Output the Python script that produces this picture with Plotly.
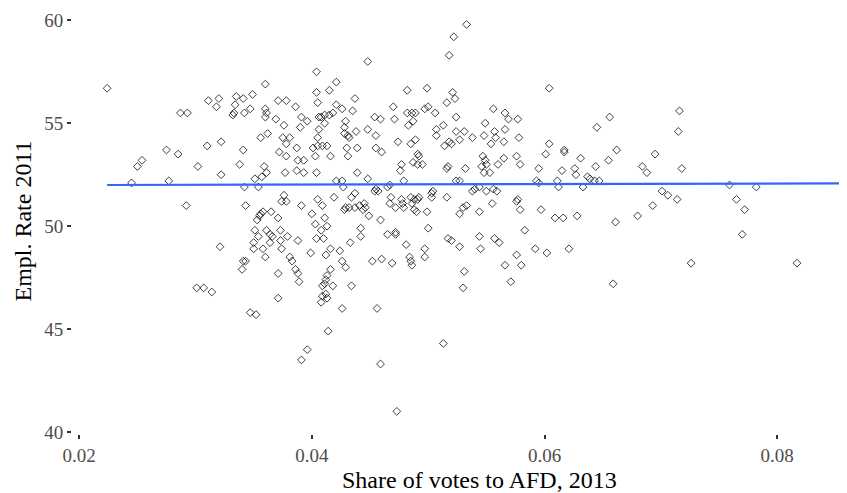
"""
Scatter of employment rate 2011 against AFD vote share 2013, with a flat linear fit.
"""

import plotly.graph_objects as go

SERIF = "Liberation Serif"
TICK_GREY = "#4D4D4D"
FIT_BLUE = "#3366FF"

# district values (x = AFD share 2013, y = employment rate 2011)
afd_share = [
    # upper left cluster
    0.0224, 0.0360, 0.0311, 0.0320, 0.0318, 0.0335, 0.0341, 0.0349, 0.0334, 0.0287,
    0.0293, 0.0332, 0.0333, 0.0342, 0.0347, 0.0360, 0.0361, 0.0360, 0.0371, 0.0378,
    0.0369, 0.0376, 0.0356, 0.0362, 0.0375, 0.0378, 0.0310, 0.0322, 0.0341,
    # lower left cluster
    0.0275, 0.0285, 0.0250, 0.0254, 0.0372, 0.0378, 0.0302, 0.0338, 0.0322, 0.0359,
    0.0361, 0.0357, 0.0351, 0.0377, 0.0245, 0.0277, 0.0342, 0.0354, 0.0376, 0.0374,
    0.0378, 0.0292, 0.0343, 0.0358, 0.0356, 0.0355, 0.0353, 0.0365, 0.0371, 0.0351,
    0.0361, 0.0364, 0.0366, 0.0373, 0.0354, 0.0350, 0.0364, 0.0373, 0.0379, 0.0350,
    0.0358, 0.0374, 0.0321, 0.0360, 0.0341, 0.0343, 0.0340, 0.0371, 0.0301, 0.0307,
    0.0314, 0.0371, 0.0347, 0.0352,
    # upper middle
    0.0533, 0.0522, 0.0518, 0.0448, 0.0404, 0.0421, 0.0404, 0.0415, 0.0482, 0.0499,
    0.0521, 0.0523, 0.0516, 0.0437, 0.0405, 0.0421, 0.0386, 0.0470, 0.0426, 0.0435,
    0.0418, 0.0415, 0.0411, 0.0406, 0.0408, 0.0391, 0.0396, 0.0390, 0.0411, 0.0429,
    0.0428, 0.0428, 0.0431, 0.0432, 0.0406, 0.0405, 0.0438, 0.0448, 0.0455, 0.0454,
    0.0459, 0.0471, 0.0482, 0.0486, 0.0489, 0.0487, 0.0483, 0.0497, 0.0500, 0.0506,
    0.0524, 0.0513, 0.0507, 0.0507, 0.0524, 0.0531, 0.0538, 0.0527, 0.0518, 0.0520,
    0.0514, 0.0474, 0.0489, 0.0485, 0.0381, 0.0387, 0.0401, 0.0405, 0.0409, 0.0413,
    0.0430, 0.0439, 0.0455,
    # lower middle
    0.0416, 0.0431, 0.0460, 0.0388, 0.0393, 0.0403, 0.0491, 0.0492, 0.0487, 0.0491,
    0.0495, 0.0477, 0.0476, 0.0517, 0.0516, 0.0532, 0.0387, 0.0393, 0.0404, 0.0439,
    0.0448, 0.0421, 0.0426, 0.0427, 0.0479, 0.0467, 0.0465, 0.0455, 0.0457, 0.0454,
    0.0524, 0.0527, 0.0540, 0.0538, 0.0437, 0.0434, 0.0405, 0.0419, 0.0409, 0.0391,
    0.0429, 0.0428, 0.0432, 0.0437, 0.0441, 0.0445, 0.0444, 0.0446, 0.0449, 0.0468,
    0.0467, 0.0472, 0.0477, 0.0479, 0.0478, 0.0485, 0.0488, 0.0491, 0.0492, 0.0486,
    0.0488, 0.0490, 0.0499, 0.0503, 0.0504, 0.0503, 0.0516, 0.0530, 0.0533, 0.0527,
    0.0400, 0.0411, 0.0413, 0.0408, 0.0403, 0.0459, 0.0442, 0.0442, 0.0465, 0.0472,
    0.0472, 0.0500, 0.0517, 0.0520, 0.0527, 0.0404, 0.0410, 0.0388, 0.0433, 0.0481,
    0.0416, 0.0424, 0.0497, 0.0497, 0.0399, 0.0412, 0.0381, 0.0383, 0.0452, 0.0460,
    0.0469, 0.0426, 0.0429, 0.0484, 0.0485, 0.0486, 0.0386, 0.0388, 0.0389, 0.0416,
    0.0413, 0.0412, 0.0409, 0.0411, 0.0418, 0.0434, 0.0531, 0.0530,
    # low outliers
    0.0412, 0.0409, 0.0413, 0.0408, 0.0426, 0.0456, 0.0414, 0.0396, 0.0391, 0.0459,
    0.0513, 0.0473,
    # upper right
    0.0604, 0.0556, 0.0566, 0.0569, 0.0577, 0.0549, 0.0557, 0.0558, 0.0554, 0.0566,
    0.0548, 0.0565, 0.0578, 0.0604, 0.0617, 0.0645, 0.0656, 0.0662,
    # lower right
    0.0547, 0.0549, 0.0550, 0.0546, 0.0548, 0.0553, 0.0565, 0.0576, 0.0579, 0.0560,
    0.0601, 0.0617, 0.0631, 0.0695, 0.0655, 0.0644, 0.0684, 0.0688, 0.0595, 0.0615,
    0.0626, 0.0627, 0.0637, 0.0639, 0.0643, 0.0647, 0.0593, 0.0595, 0.0611, 0.0612,
    0.0633, 0.0550, 0.0556, 0.0559, 0.0544, 0.0701, 0.0706, 0.0576, 0.0577, 0.0555,
    0.0544, 0.0579, 0.0597, 0.0693, 0.0609, 0.0616, 0.0628, 0.0680, 0.0661, 0.0583,
    0.0544, 0.0557, 0.0561, 0.0545, 0.0592, 0.0602, 0.0621, 0.0576, 0.0566, 0.0580,
    0.0571, 0.0659,
    # far right
    0.0716, 0.0715, 0.0718, 0.0759, 0.0782, 0.0714, 0.0765, 0.0772, 0.0770, 0.0726,
    0.0817,
]

empl_rate = [
    # upper left cluster
    56.7, 56.9, 56.1, 56.2, 55.8, 56.3, 56.2, 56.4, 55.9, 55.5,
    55.5, 55.4, 55.5, 55.5, 55.7, 55.7, 55.5, 55.3, 56.1, 56.1,
    55.2, 54.9, 54.3, 54.5, 54.3, 54.0, 53.9, 54.1, 53.7,
    # lower left cluster
    53.7, 53.5, 52.9, 53.2, 53.6, 53.4, 52.9, 53.0, 52.5, 52.9,
    52.6, 52.4, 52.3, 52.6, 52.1, 52.2, 51.9, 51.9, 51.5, 51.2,
    51.2, 51.0, 51.0, 50.7, 50.6, 50.5, 50.3, 50.7, 50.4, 49.8,
    49.8, 49.6, 49.5, 49.8, 49.5, 49.2, 49.2, 49.3, 49.5, 48.9,
    48.9, 48.9, 49.0, 48.5, 48.3, 48.3, 47.9, 47.7, 47.0, 47.0,
    46.8, 46.5, 45.8, 45.7,
    # upper middle
    59.8, 59.2, 58.3, 58.0, 57.5, 57.0, 56.5, 56.6, 56.6, 56.7,
    56.5, 56.2, 56.0, 56.2, 56.0, 55.9, 55.8, 55.8, 55.7, 55.6,
    55.5, 55.4, 55.4, 55.3, 55.3, 55.3, 55.1, 54.8, 55.0, 55.1,
    54.8, 54.5, 54.4, 54.3, 54.7, 54.3, 54.6, 54.7, 54.4, 55.3,
    55.2, 55.2, 55.5, 55.5, 55.5, 55.1, 54.9, 55.7, 55.8, 55.5,
    55.3, 54.9, 54.7, 54.4, 54.6, 54.6, 54.3, 54.2, 54.1, 54.0,
    53.9, 54.1, 54.2, 54.0, 54.3, 53.8, 53.8, 53.9, 53.9, 53.9,
    53.8, 53.8, 53.8,
    # lower middle
    53.4, 53.4, 53.6, 53.2, 53.2, 53.4, 53.5, 53.4, 53.1, 53.0,
    53.0, 53.0, 52.7, 52.9, 52.8, 52.8, 52.7, 52.6, 52.6, 52.6,
    52.3, 52.2, 52.2, 51.9, 52.2, 52.0, 51.9, 51.8, 51.7, 51.7,
    52.2, 52.2, 51.8, 51.7, 51.6, 51.4, 51.3, 51.4, 51.0, 51.0,
    50.9, 50.8, 50.9, 50.9, 51.0, 51.1, 50.8, 50.9, 50.5, 51.4,
    51.1, 50.9, 51.3, 50.9, 51.1, 51.4, 51.3, 51.3, 51.4, 51.1,
    50.8, 50.7, 50.7, 51.6, 51.7, 51.4, 51.4, 50.9, 51.0, 50.6,
    50.6, 50.4, 50.0, 49.8, 50.1, 50.3, 49.9, 49.5, 49.6, 49.7,
    49.6, 49.9, 49.4, 49.3, 49.0, 49.4, 49.4, 49.3, 49.2, 49.1,
    48.9, 48.8, 48.9, 48.5, 48.7, 48.6, 48.5, 48.3, 48.3, 48.4,
    48.2, 48.3, 48.0, 48.5, 48.3, 48.1, 47.9, 47.7, 47.3, 47.9,
    47.6, 47.4, 47.1, 47.2, 47.1, 47.1, 47.8, 47.0,
    # low outliers
    46.7, 46.6, 46.5, 46.3, 46.0, 46.0, 44.9, 44.0, 43.5, 43.3,
    44.3, 41.0,
    # upper right
    56.7, 55.7, 55.5, 55.2, 55.2, 55.0, 54.6, 54.3, 54.0, 54.7,
    54.4, 54.1, 54.3, 54.0, 53.7, 54.8, 55.3, 53.7,
    # lower right
    53.4, 53.2, 53.0, 52.9, 52.6, 52.6, 53.3, 53.4, 53.0, 53.0,
    53.5, 53.6, 53.3, 53.5, 53.2, 52.9, 52.9, 52.6, 52.8, 52.7,
    52.8, 52.5, 52.4, 52.3, 52.2, 52.2, 52.2, 52.1, 52.2, 51.9,
    51.9, 51.7, 51.8, 51.7, 51.9, 51.7, 51.5, 51.2, 51.3, 51.1,
    50.7, 50.8, 50.8, 51.0, 50.4, 50.4, 50.5, 50.5, 50.2, 49.8,
    49.5, 49.4, 49.2, 48.9, 48.9, 48.7, 48.9, 48.6, 48.1, 48.1,
    47.3, 47.2,
    # far right
    55.6, 54.6, 52.8, 52.0, 51.9, 51.3, 51.3, 50.8, 49.6, 48.2,
    48.2,
]

# linear fit
fit_share = [0.0224, 0.0860]
fit_rate = [52.00, 52.08]

x_ticks = [0.02, 0.04, 0.06, 0.08]
x_labels = ["0.02", "0.04", "0.06", "0.08"]
y_ticks = [40, 45, 50, 55, 60]
y_labels = ["40", "45", "50", "55", "60"]


fig = go.Figure()

fig.add_trace(go.Scatter(
    x=afd_share, y=empl_rate,
    mode="markers",
    marker=dict(symbol="diamond-open", size=6, color="rgba(0,0,0,0.75)",
                line=dict(width=1)),
    hoverinfo="skip",
    showlegend=False,
))

fig.add_trace(go.Scatter(
    x=fit_share, y=fit_rate,
    mode="lines",
    line=dict(color=FIT_BLUE, width=2.2),
    hoverinfo="skip",
    showlegend=False,
))

axis_common = dict(
    showgrid=False, zeroline=False, showline=False,
    ticks="outside", ticklen=4, tickwidth=1.6, tickcolor="#333333",
    tickfont=dict(family=SERIF, size=19, color=TICK_GREY),
)

# the page body adds an 8px offset, so the figure is 8px smaller than the window
fig.update_layout(
    width=839, height=485,
    margin=dict(l=64, r=0, t=0, b=59),
    paper_bgcolor="white", plot_bgcolor="white",
    font=dict(family=SERIF),
    xaxis=dict(
        range=[0.01938, 0.0860],
        tickvals=x_ticks, ticktext=x_labels,
        **axis_common,
    ),
    yaxis=dict(
        range=[39.9, 60.6],
        tickvals=y_ticks, ticktext=y_labels,
        title=dict(text="Empl. Rate 2011",
                   font=dict(family=SERIF, size=24, color="black"), standoff=5),
        **axis_common,
    ),
)

# the source panel runs past the right edge, so its x title sits right of centre
fig.add_annotation(
    text="Share of votes to AFD, 2013",
    xref="paper", yref="paper", x=0.526, y=0,
    xanchor="center", yanchor="middle", yshift=-46,
    showarrow=False,
    font=dict(family=SERIF, size=24, color="black"),
)

fig.write_html("out.html")
